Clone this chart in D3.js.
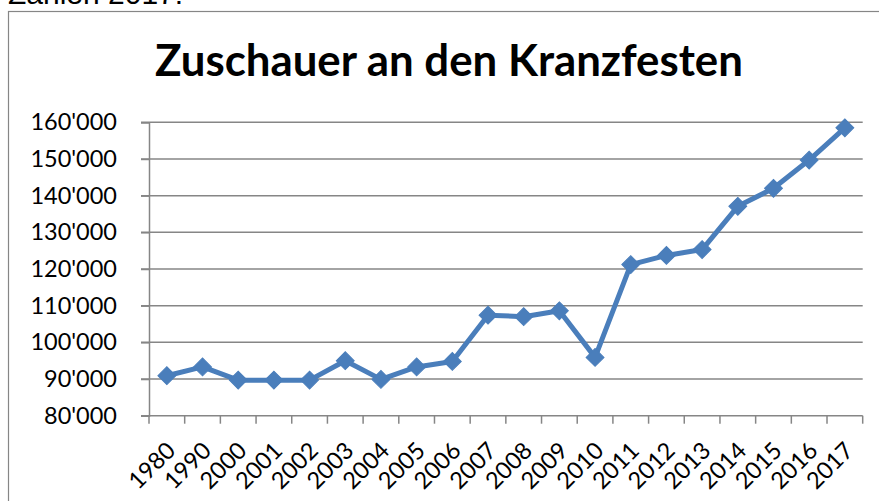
<!DOCTYPE html>
<html>
<head>
<meta charset="utf-8">
<script src="https://cdn.jsdelivr.net/npm/d3@7"></script>
<style>
  html, body { margin: 0; padding: 0; background: #fff; overflow: hidden; }
  svg { display: block; }
</style>
</head>
<body>
<svg id="chart" width="879" height="501"></svg>
<script>
// ---- data ----
const years = ["1980","1990","2000","2001","2002","2003","2004","2005","2006","2007",
               "2008","2009","2010","2011","2012","2013","2014","2015","2016","2017"];
const spectators = [90900, 93300, 89700, 89700, 89700, 95000, 89900, 93300, 94800, 107400,
                    107000, 108600, 95900, 121200, 123700, 125300, 137100, 142000, 149700, 158500];
const yTicks = [80000, 90000, 100000, 110000, 120000, 130000, 140000, 150000, 160000];
const titleText = "Zuschauer an den Kranzfesten";
const noteText = "Zahlen 2017:";

// ---- layout ----
const svg = d3.select("#chart");
const plot = { left: 149, right: 862.7, top: 122.3, bottom: 415.7 };
const gridColor = "#868686";
const lineColor = "#4A7EBB";
const font = "Lato, 'Open Sans', sans-serif";

// note text cut at top (as in the reference)
svg.append("text")
  .attr("x", 8).attr("y", 3.5)
  .attr("font-family", "'Liberation Sans', Arial, sans-serif")
  .attr("font-size", 30)
  .attr("fill", "#000")
  .text(noteText);

// chart frame (extends beyond the viewport on right and bottom)
svg.append("rect")
  .attr("x", 8.5).attr("y", 11.5)
  .attr("width", 890).attr("height", 520)
  .attr("fill", "none")
  .attr("stroke", gridColor)
  .attr("stroke-width", 1.2);

// scales
const x = d3.scaleBand().domain(years).range([plot.left, plot.right]).padding(0);
const y = d3.scaleLinear().domain([80000, 160000]).range([plot.bottom, plot.top]);

const locale = d3.formatLocale({ decimal: ".", thousands: "'", grouping: [3], currency: ["", ""] });
const fmt = locale.format(",");

// gridlines
svg.append("g").selectAll("line")
  .data(yTicks.filter(v => v > 80000))
  .join("line")
  .attr("x1", plot.left - 8).attr("x2", plot.right)
  .attr("y1", d => y(d)).attr("y2", d => y(d))
  .attr("stroke", gridColor).attr("stroke-width", 1.5);

// y axis
const yAxis = svg.append("g")
  .attr("transform", `translate(${plot.left},0)`)
  .call(d3.axisLeft(y).tickValues(yTicks).tickFormat(fmt).tickSize(8).tickPadding(24));
yAxis.select(".domain").attr("stroke", gridColor).attr("stroke-width", 1.5);
yAxis.selectAll(".tick line").attr("stroke", gridColor).attr("stroke-width", 1.5);
yAxis.selectAll(".tick text")
  .attr("font-family", font).attr("font-size", 23.5).attr("fill", "#000");

// x axis line
svg.append("line")
  .attr("x1", plot.left - 8).attr("x2", plot.right)
  .attr("y1", plot.bottom).attr("y2", plot.bottom)
  .attr("stroke", gridColor).attr("stroke-width", 1.5);

// x tick marks at band boundaries
const boundaries = years.map(d => x(d)).concat([x(years[years.length - 1]) + x.bandwidth()]);
svg.append("g").selectAll("line")
  .data(boundaries)
  .join("line")
  .attr("x1", d => d).attr("x2", d => d)
  .attr("y1", plot.bottom).attr("y2", plot.bottom + 8)
  .attr("stroke", gridColor).attr("stroke-width", 1.5);

// x labels rotated
svg.append("g").selectAll("text")
  .data(years)
  .join("text")
  .attr("transform", d => `translate(${x(d) + x.bandwidth() / 2 + 10},452) rotate(-45)`)
  .attr("text-anchor", "end")
  .attr("font-family", font).attr("font-size", 23.5).attr("fill", "#000")
  .text(d => d);

// line
const cx = d => x(d) + x.bandwidth() / 2;
svg.append("path")
  .datum(years.map((yr, i) => [yr, spectators[i]]))
  .attr("fill", "none")
  .attr("stroke", lineColor)
  .attr("stroke-width", 5)
  .attr("stroke-linejoin", "round")
  .attr("d", d3.line().x(d => cx(d[0])).y(d => y(d[1])));

// diamond markers
const diamond = d3.symbol().type(d3.symbolSquare).size(160);
svg.append("g").selectAll("path")
  .data(years.map((yr, i) => [yr, spectators[i]]))
  .join("path")
  .attr("transform", d => `translate(${cx(d[0])},${y(d[1])}) rotate(45)`)
  .attr("d", diamond())
  .attr("fill", lineColor)
  .attr("stroke", lineColor)
  .attr("stroke-width", 1);

// title: fit to measured width
const title = svg.append("text")
  .attr("x", 449).attr("y", 75.5)
  .attr("text-anchor", "middle")
  .attr("font-family", font).attr("font-weight", "bold")
  .attr("font-size", 40).attr("fill", "#000")
  .text(titleText);
const w = title.node().getComputedTextLength();
title.attr("font-size", 40 * 588 / w);
</script>
</body>
</html>
